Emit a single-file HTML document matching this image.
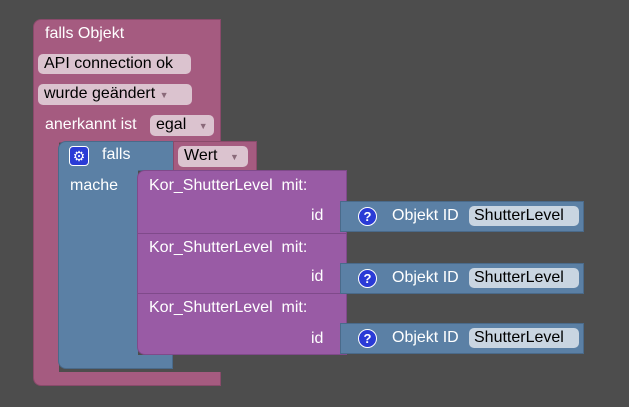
<!DOCTYPE html>
<html><head><meta charset="utf-8"><style>
body{margin:0;width:629px;height:407px;background:#4d4d4d;overflow:hidden;font-family:"Liberation Sans",Arial,sans-serif;font-size:16px;position:relative}
div{position:absolute;box-sizing:border-box}
.pk{background:#a55b80;border:1px solid #8a4a6b}
.bl{background:#5b80a5;border:1px solid #4a6a8a}
.pu{background:#995ba5;border:1px solid #7f4a8a}
.t{color:#fff;white-space:nowrap;line-height:20px}
.f{background:#dbc3cf;color:#000;border-radius:5px;white-space:nowrap;line-height:20px;padding-left:6px}
.fb{background:#c9d5e1;color:#000;border-radius:5px;line-height:20px;padding-left:5px;white-space:nowrap}
.q{width:19px;height:19px;border-radius:50%;background:#2a3bd6;border:1px solid #fff;color:#fff;font-weight:bold;font-size:13px;text-align:center;line-height:17px}
.ar{color:#8a6a7a;font-size:9px}
</style></head><body>
<!-- pink outer -->
<div class="pk" style="left:33px;top:19px;width:188px;height:124px;border-radius:8px 0 0 0"></div>
<div class="pk" style="left:33px;top:140px;width:26px;height:235px;border-top:none;border-right:none"></div>
<div class="pk" style="left:33px;top:372px;width:188px;height:14px;border-radius:0 0 0 8px;border-top:none"></div>
<div class="t" style="left:45px;top:24px">falls Objekt</div>
<div class="f" style="left:38px;top:54px;width:153px">API connection ok</div>
<div class="f" style="left:38px;top:84px;width:154px">wurde geändert <span class="ar">▼</span></div>
<div class="t" style="left:45px;top:115px">anerkannt ist</div>
<div class="f" style="left:150px;top:115px;width:64px">egal <span class="ar" style="margin-left:8px">▼</span></div>
<!-- blue falls -->
<div class="bl" style="left:58px;top:141px;width:120px;height:30px;border-radius:8px 0 0 0"></div>
<div class="bl" style="left:58px;top:169px;width:80px;height:192px;border-top:none;border-right:none"></div>
<div class="bl" style="left:58px;top:355px;width:115px;height:14px;border-radius:0 0 0 8px;border-top:none"></div>
<div style="left:69px;top:146px;width:20px;height:20px;border-radius:4px;background:#2a3bd6;border:1px solid #fff;color:#fff;font-size:14px;text-align:center;line-height:18px">⚙</div>
<div class="t" style="left:102px;top:145px">falls</div>
<div class="t" style="left:70px;top:176px">mache</div>
<div class="pk" style="left:173px;top:141px;width:84px;height:30px"></div>
<div class="f" style="left:178px;top:146px;width:70px">Wert <span class="ar" style="margin-left:8px">▼</span></div>
<!-- purple blocks -->
<div class="pu" style="left:137px;top:170px;width:210px;height:64px;border-radius:8px 0 0 0"></div>
<div class="pu" style="left:137px;top:233px;width:210px;height:61px"></div>
<div class="pu" style="left:137px;top:293px;width:210px;height:62px;border-radius:0 0 0 8px"></div>
<div class="t" style="left:149px;top:176px">Kor_ShutterLevel&nbsp; mit:</div>
<div class="t" style="left:311px;top:206px">id</div>
<div class="t" style="left:149px;top:238px">Kor_ShutterLevel&nbsp; mit:</div>
<div class="t" style="left:311px;top:267px">id</div>
<div class="t" style="left:149px;top:298px">Kor_ShutterLevel&nbsp; mit:</div>
<div class="t" style="left:311px;top:329px">id</div>
<!-- value blocks -->
<div class="bl" style="left:340px;top:201px;width:244px;height:31px"></div>
<div class="q" style="left:358px;top:207px">?</div>
<div class="t" style="left:392px;top:206px">Objekt ID</div>
<div class="fb" style="left:469px;top:206px;width:110px">ShutterLevel</div>
<div class="bl" style="left:340px;top:263px;width:244px;height:31px"></div>
<div class="q" style="left:358px;top:269px">?</div>
<div class="t" style="left:392px;top:268px">Objekt ID</div>
<div class="fb" style="left:469px;top:268px;width:110px">ShutterLevel</div>
<div class="bl" style="left:340px;top:323px;width:244px;height:31px"></div>
<div class="q" style="left:358px;top:329px">?</div>
<div class="t" style="left:392px;top:328px">Objekt ID</div>
<div class="fb" style="left:469px;top:328px;width:110px">ShutterLevel</div>
</body></html>
